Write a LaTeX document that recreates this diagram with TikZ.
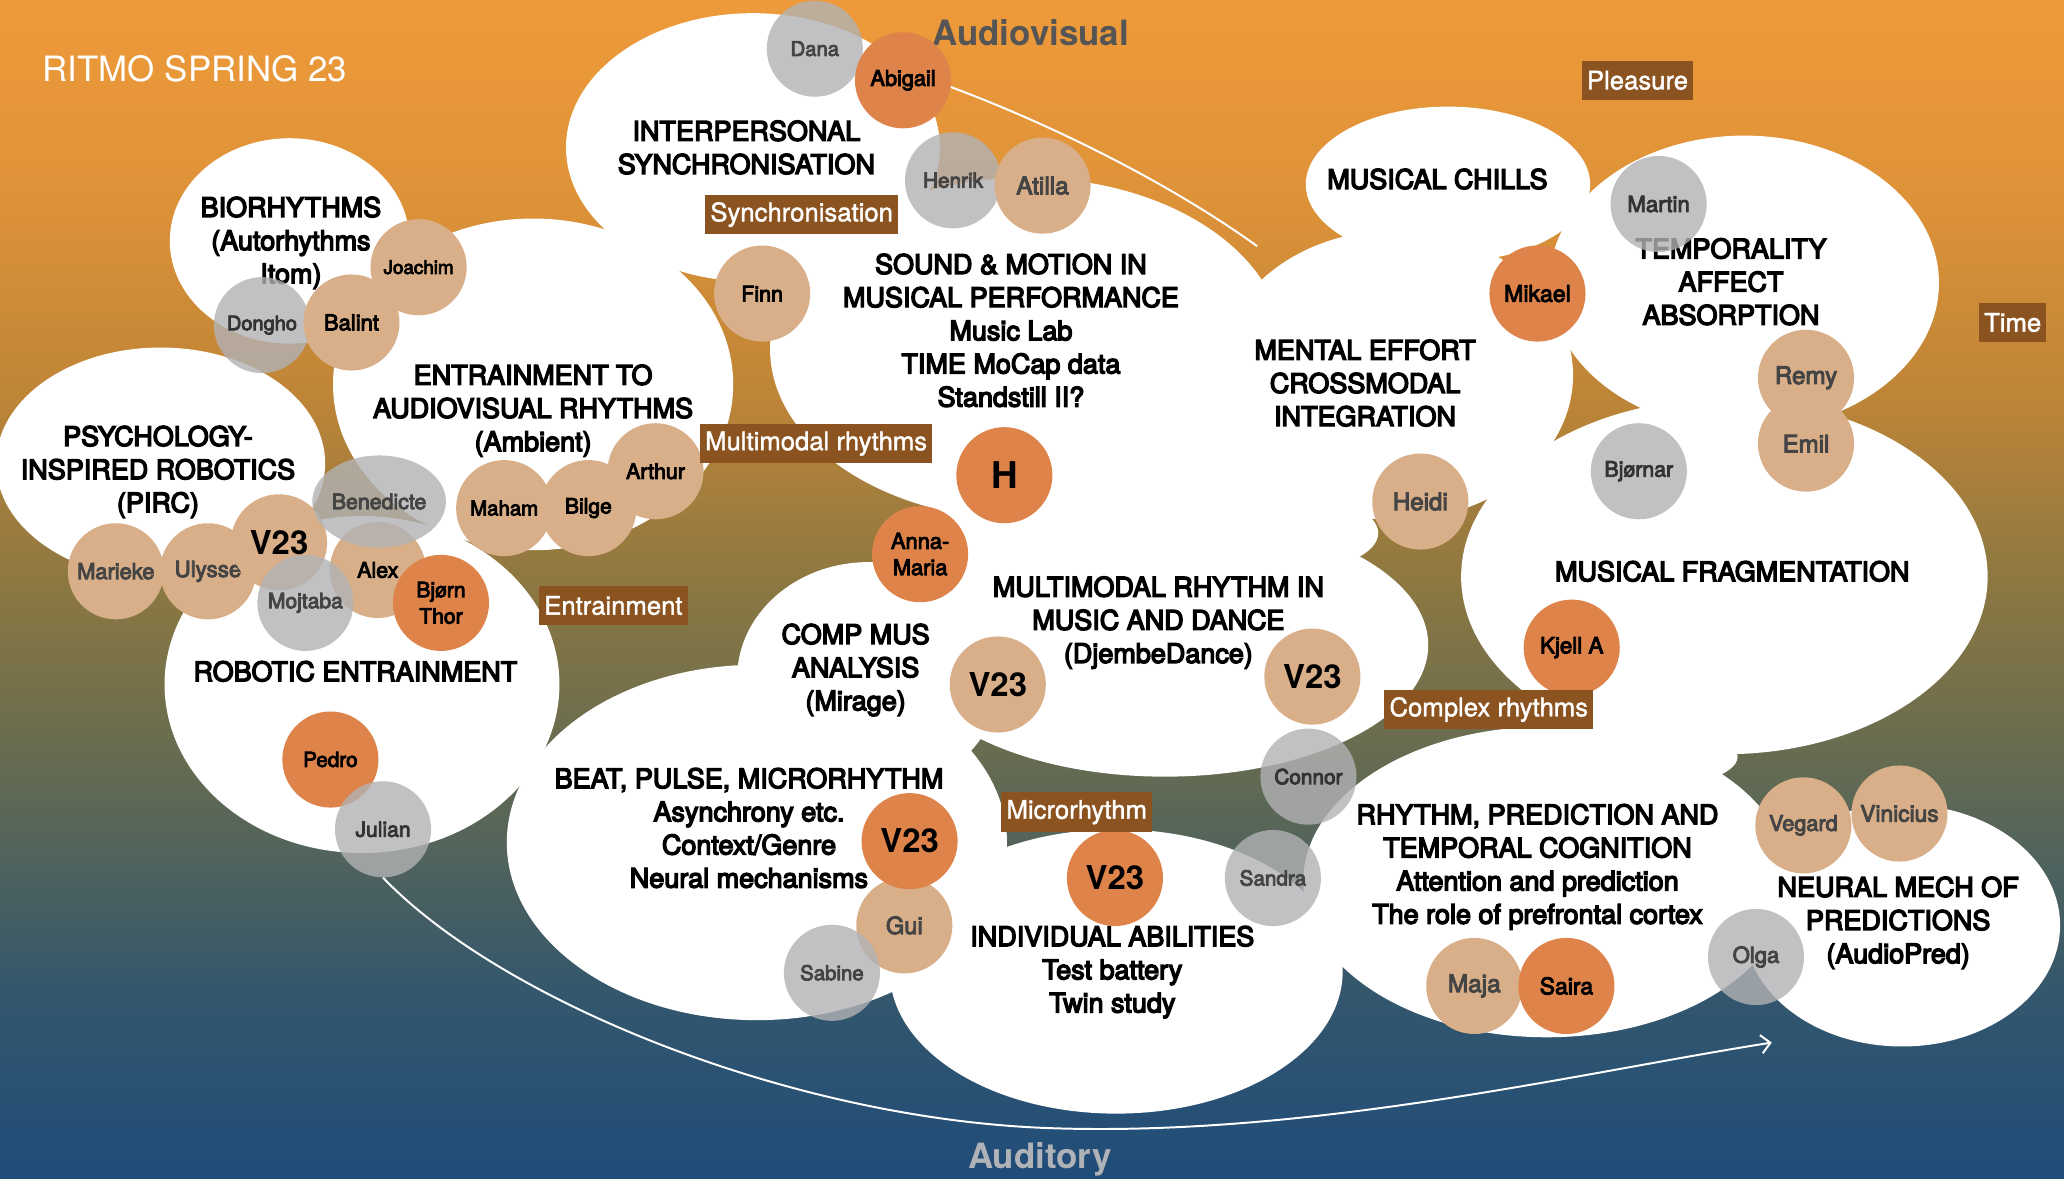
\documentclass[tikz,border=0pt]{standalone}
\usepackage{fontspec}
\setmainfont{TeX Gyre Heros}
\newfontfamily\medf{TeX Gyre Heros}[FakeBold=5]
\newfontfamily\namf{TeX Gyre Heros}[FakeBold=4]
\newfontfamily\tagf{TeX Gyre Heros}[FakeBold=1.5]
\usetikzlibrary{arrows.meta,shapes.geometric}
\definecolor{bga}{RGB}{238,154,58}
\definecolor{bgb}{RGB}{222,146,56}
\definecolor{bgc}{RGB}{190,133,55}
\definecolor{bgd}{RGB}{138,119,66}
\definecolor{bge}{RGB}{95,105,84}
\definecolor{bgf}{RGB}{52,87,108}
\definecolor{bgg}{RGB}{31,76,121}
\definecolor{tanc}{RGB}{217,175,137}
\definecolor{orgc}{RGB}{222,131,74}
\definecolor{gryc}{RGB}{178,178,180}
\definecolor{tagc}{RGB}{139,83,31}
\definecolor{txg}{RGB}{68,68,68}
\definecolor{avc}{RGB}{85,85,85}
\definecolor{auc}{RGB}{175,178,182}
\newcommand\nmf[1]{\namf\fontsize{#1}{20}\selectfont}
\newcommand\vtf[1]{\bfseries\fontsize{#1}{#1}\selectfont}
\begin{document}
\begin{tikzpicture}[x=1pt,y=-1pt,
  person/.style={circle, minimum size=73pt, inner sep=0pt, align=center},
  tanp/.style={person, fill=tanc, text=black},
  orgp/.style={person, fill=orgc, text=black},
  gryp/.style={person, fill=gryc, fill opacity=0.8, text opacity=1, text=txg},
  ttl/.style={align=center, inner sep=0pt, text=black, font=\medf\fontsize{20.5}{25.2}\selectfont},
  tag/.style={fill=tagc, text=white, inner xsep=4pt, inner ysep=0pt, minimum height=30pt, font=\tagf\fontsize{19.5}{22}\selectfont},
  blob/.style={fill=white},
  link/.style={draw=white, line width=1.5pt}]
\useasboundingbox (0,0) rectangle (1568,895);
% background gradient
\shade[top color=bga, bottom color=bgb] (0,0) rectangle (1568,151);
\shade[top color=bgb, bottom color=bgc] (0,150) rectangle (1568,301);
\shade[top color=bgc, bottom color=bgd] (0,300) rectangle (1568,451);
\shade[top color=bgd, bottom color=bge] (0,450) rectangle (1568,601);
\shade[top color=bge, bottom color=bgf] (0,600) rectangle (1568,751);
\shade[top color=bgf, bottom color=bgg] (0,750) rectangle (1568,895);
% white clouds
\fill[blob] (220,183) ellipse (91pt and 78pt);
\fill[blob] (405,292) ellipse (152pt and 126pt);
\fill[blob] (122,352) ellipse (125pt and 88pt);
\fill[blob] (275,520) ellipse (150pt and 128pt);
\fill[blob] (572,112) ellipse (142pt and 102pt);
\fill[blob] (780,265) ellipse (195pt and 130pt);
\fill[blob] (1060,285) ellipse (135pt and 110pt);
\fill[blob] (1100,140) ellipse (108pt and 59pt);
\fill[blob] (1325,215) ellipse (148pt and 112pt);
\fill[blob] (1310,438) ellipse (200pt and 135pt);
\fill[blob] (885,490) ellipse (200pt and 100pt);
\fill[blob] (660,515) ellipse (100pt and 88pt);
\fill[blob] (575,640) ellipse (190pt and 135pt);
\fill[blob] (848,738) ellipse (172pt and 108pt);
\fill[blob] (1175,670) ellipse (185pt and 118pt);
\fill[blob] (1445,703) ellipse (120pt and 92pt);
\fill[blob] (985,405) ellipse (62pt and 28pt);
\fill[blob] (800,410) ellipse (120pt and 40pt);
\fill[blob] (950,372) ellipse (82pt and 48pt);
\fill[blob] (1240,575) ellipse (80pt and 25pt);
% headings
\node[text=white, font=\fontsize{26.5}{30}\selectfont, inner sep=0pt] (title) at (148,52) {RITMO SPRING 23};
\node[text=avc, font=\vtf{26.5}, inner sep=0pt] (audiovisual) at (783,25) {Audiovisual};
\node[text=auc, font=\vtf{26.5}, inner sep=0pt] (auditory) at (790,881) {Auditory};
% topic titles
\node[ttl] (tbio) at (221,184.5) {BIORHYTHMS\\(Autorhythms\\Itom)};
\node[ttl] (tinter) at (567,112) {INTERPERSONAL\\SYNCHRONISATION};
\node[ttl] (tentr) at (405,312) {ENTRAINMENT TO\\AUDIOVISUAL RHYTHMS\\(Ambient)};
\node[ttl] (tpirc) at (120,358.5) {PSYCHOLOGY-\\INSPIRED ROBOTICS\\(PIRC)};
\node[ttl] (trob) at (270,510) {ROBOTIC ENTRAINMENT};
\node[ttl] (tsound) at (768,251) {SOUND \& MOTION IN\\MUSICAL PERFORMANCE\\Music Lab\\TIME MoCap data\\Standstill II?};
\node[ttl] (tchills) at (1092,136) {MUSICAL CHILLS};
\node[ttl] (tmental) at (1037,291) {MENTAL EFFORT\\CROSSMODAL\\INTEGRATION};
\node[ttl] (ttemp) at (1315,214) {TEMPORALITY\\AFFECT\\ABSORPTION};
\node[ttl] (tfrag) at (1316,434) {MUSICAL FRAGMENTATION};
\node[ttl] (tmulti) at (880,473) {MULTIMODAL RHYTHM IN\\MUSIC AND DANCE\\(DjembeDance)};
\node[ttl] (tcomp) at (650,509) {COMP MUS\\ANALYSIS\\(Mirage)};
\node[ttl] (tbeat) at (569,629) {BEAT, PULSE, MICRORHYTHM\\Asynchrony etc.\\Context/Genre\\Neural mechanisms};
\node[ttl] (tind) at (845,738.5) {INDIVIDUAL ABILITIES\\Test battery\\Twin study};
\node[ttl] (trhy) at (1168,658.5) {RHYTHM, PREDICTION AND\\TEMPORAL COGNITION\\Attention and prediction\\The role of prefrontal cortex};
\node[ttl] (tneur) at (1442,701) {NEURAL MECH OF\\PREDICTIONS\\(AudioPred)};
% people: grey ones underneath
\node[gryp, font={\nmf{15.4}}] (dana) at (619,37) {Dana};
\node[gryp, font={\nmf{15.8}}] (henrik) at (724,137) {Henrik};
\node[gryp, font={\nmf{15.2}}, text=black!80] (dongho) at (199,247) {Dongho};
% tan
\node[tanp, font={\nmf{14.3}}] (joachim) at (318,203) {Joachim};
\node[tanp, font={\nmf{16.7}}] (balint) at (267,245) {Balint};
\node[tanp, font={\nmf{18.5}}, text=txg] (atilla) at (792,141) {Atilla};
\node[tanp, font={\nmf{16.3}}] (finn) at (579,223) {Finn};
\node[tanp, font={\nmf{15.5}}] (maham) at (383,386) {Maham};
\node[tanp, font={\nmf{16}}] (bilge) at (447,386) {Bilge};
\node[tanp, font={\nmf{16.3}}] (arthur) at (498,358) {Arthur};
\node[tanp, font={\nmf{16.6}}, text=txg] (marieke) at (88,434) {Marieke};
\node[tanp, font={\nmf{17}}, text=txg] (ulysse) at (158,434) {Ulysse};
\node[tanp, font={\vtf{25}}] (vpirc) at (212,412) {V23};
\node[tanp, font={\nmf{16.3}}] (alex) at (287,433) {Alex};
\node[tanp, font={\vtf{25}}] (vcomp) at (758,520) {V23};
\node[tanp, font={\vtf{25}}] (vmulti) at (997,514) {V23};
\node[tanp, font={\nmf{18}}, text=txg] (gui) at (687,703) {Gui};
\node[tanp, font={\nmf{18.5}}, text=txg] (maja) at (1120,749) {Maja};
\node[tanp, font={\nmf{16.5}}, text=txg] (vegard) at (1370,627) {Vegard};
\node[tanp, font={\nmf{17.3}}, text=txg] (vinicius) at (1443,618) {Vinicius};
\node[tanp, font={\nmf{18.3}}, text=txg] (heidi) at (1079,381) {Heidi};
\node[tanp, font={\nmf{18.4}}, text=txg] (remy) at (1372,287) {Remy};
\node[tanp, font={\nmf{18.3}}, text=txg] (emil) at (1372,337) {Emil};
% orange
\node[orgp, font={\nmf{16.5}}] (abigail) at (686,61) {Abigail};
\node[orgp, font={\nmf{16}}] (bjorn) at (335,458) {Bjørn\\Thor};
\node[orgp, font={\nmf{15.7}}] (pedro) at (251,577) {Pedro};
\node[orgp, font={\vtf{28}}] (hnode) at (763,361) {H};
\node[orgp, font={\nmf{16.6}}] (anna) at (699,421) {Anna-\\Maria};
\node[orgp, font={\vtf{25}}] (vbeat) at (691,639) {V23};
\node[orgp, font={\vtf{25}}] (vind) at (847,667) {V23};
\node[orgp, font={\nmf{17.4}}] (saira) at (1190,749) {Saira};
\node[orgp, font={\nmf{17}}] (kjell) at (1194,492) {Kjell A};
\node[orgp, font={\nmf{17.5}}] (mikael) at (1168,223) {Mikael};
% grey ones on top
\node[gryp, ellipse, minimum width=96pt, minimum height=70pt, font={\nmf{16.2}}] (benedicte) at (288,381) {Benedicte};
\node[gryp, font={\nmf{16}}] (mojtaba) at (232,458) {Mojtaba};
\node[gryp, font={\nmf{16}}, text=black!80] (julian) at (291,630) {Julian};
\node[gryp, font={\nmf{15.8}}, text=black!80] (connor) at (994,590) {Connor};
\node[gryp, font={\nmf{15.7}}] (sandra) at (967,667) {Sandra};
\node[gryp, font={\nmf{15.5}}] (sabine) at (632,739) {Sabine};
\node[gryp, font={\nmf{16.8}}] (olga) at (1334,727) {Olga};
\node[gryp, font={\nmf{16.9}}, text=black!80] (martin) at (1260,155) {Martin};
\node[gryp, font={\nmf{16.2}}, text=black!80] (bjornar) at (1245,358) {Bjørnar};
% theme tags
\node[tag] (tsync) at (609,163) {Synchronisation};
\node[tag] (tmm) at (620,337) {Multimodal rhythms};
\node[tag] (tentrain) at (466,460) {Entrainment};
\node[tag] (tpleasure) at (1244,61) {Pleasure};
\node[tag] (ttime) at (1529,245) {Time};
\node[tag] (tcomplex) at (1131,539) {Complex rhythms};
\node[tag] (tmicro) at (818,617) {Microrhythm};
% connectors
\coordinate (avend) at (955,187);
\coordinate (audmid) at (797,857);
\coordinate (audend) at (1346,792);
\draw[link] (abigail.-8) .. controls (800,95) and (890,140) .. (avend);
\draw[link, -{Straight Barb[length=7pt,width=14pt]}] (julian.south) .. controls (380,760) and (600,850) .. (audmid) .. controls (994,864) and (1200,815) .. (audend);
\end{tikzpicture}
\end{document}
